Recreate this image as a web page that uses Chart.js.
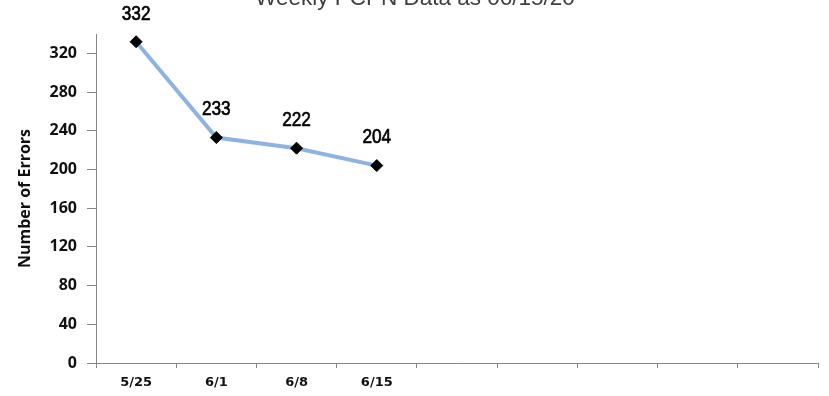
<!DOCTYPE html>
<html>
<head>
<meta charset="utf-8">
<script src="https://cdn.jsdelivr.net/npm/chart.js@4/dist/chart.umd.min.js"></script>
<style>
  html, body { margin: 0; padding: 0; background: #fff; }
  .chart-wrap { width: 829px; height: 396px; }
</style>
</head>
<body>
<div class="chart-wrap"><canvas id="c" width="829" height="396"></canvas></div>
<script>
const weeks = ['5/25', '6/1', '6/8', '6/15', '', '', '', '', ''];
const errors = [332, 233, 222, 204, null, null, null, null, null];
const yTicks = [0, 40, 80, 120, 160, 200, 240, 280, 320];
const chartTitle = 'Weekly PCPN Data as 06/15/20';
const yTitle = 'Number of Errors';

const axisGrey = '#868686';

// title sits mostly above the canvas, only its lower part shows
const cutTitle = {
  id: 'cutTitle',
  afterDraw(chart) {
    const ctx = chart.ctx;
    ctx.save();
    ctx.font = '22.5px "Liberation Sans", Arial, sans-serif';
    ctx.fillStyle = '#404040';
    ctx.textAlign = 'center';
    ctx.textBaseline = 'alphabetic';
    ctx.fillText(chartTitle, 415, 5);
    ctx.restore();
  }
};

// narrow value labels: Arial metrics squeezed sideways
const valueLabels = {
  id: 'valueLabels',
  afterDatasetsDraw(chart) {
    const ctx = chart.ctx;
    const meta = chart.getDatasetMeta(0);
    meta.data.forEach((pt, i) => {
      if (errors[i] == null) return;
      ctx.save();
      ctx.translate(pt.x, pt.y - 28);
      ctx.scale(0.82, 1);
      ctx.font = '21px "Liberation Sans", Arial, sans-serif';
      ctx.fillStyle = '#000';
      ctx.strokeStyle = '#000';
      ctx.lineWidth = 0.7;
      ctx.textAlign = 'center';
      ctx.textBaseline = 'middle';
      ctx.fillText(String(errors[i]), 0, 0);
      ctx.strokeText(String(errors[i]), 0, 0);
      ctx.restore();
    });
  }
};

new Chart(document.getElementById('c').getContext('2d'), {
  type: 'line',
  data: {
    labels: weeks,
    datasets: [{
      data: errors,
      borderColor: '#8db3e2',
      borderWidth: 4,
      tension: 0,
      fill: false,
      pointStyle: 'rectRot',
      pointRadius: 6,
      pointHoverRadius: 6,
      pointBackgroundColor: '#000',
      pointBorderColor: '#000',
      pointBorderWidth: 1
    }]
  },
  options: {
    responsive: false,
    animation: false,
    layout: { padding: { left: 14, right: 11, top: 34, bottom: 0 } },
    plugins: {
      legend: { display: false },
      tooltip: { enabled: false }
    },
    scales: {
      x: {
        offset: true,
        grid: { drawOnChartArea: false, drawTicks: true, tickLength: 5, color: axisGrey, offset: true },
        border: { color: axisGrey, width: 1 },
        ticks: { color: '#111', font: { family: '"DejaVu Sans"', size: 13, weight: 'bold' }, padding: 7, maxRotation: 0, autoSkip: false },
        afterFit(scale) { scale.height = 33; }
      },
      y: {
        min: 0,
        max: 340,
        afterBuildTicks(scale) { scale.ticks = yTicks.map(v => ({ value: v })); },
        grid: { drawOnChartArea: false, drawTicks: true, tickLength: 9, color: axisGrey },
        border: { color: axisGrey, width: 1 },
        ticks: { color: '#111', font: { family: '"Open Sans", sans-serif', size: 16, weight: 'bold' }, padding: 10 },
        title: { display: true, text: yTitle, color: '#111', font: { family: '"Open Sans", sans-serif', size: 16, weight: 'bold' }, padding: 2 },
        afterFit(scale) { scale.width = 82; }
      }
    }
  },
  plugins: [valueLabels, cutTitle]
});
</script>
</body>
</html>
